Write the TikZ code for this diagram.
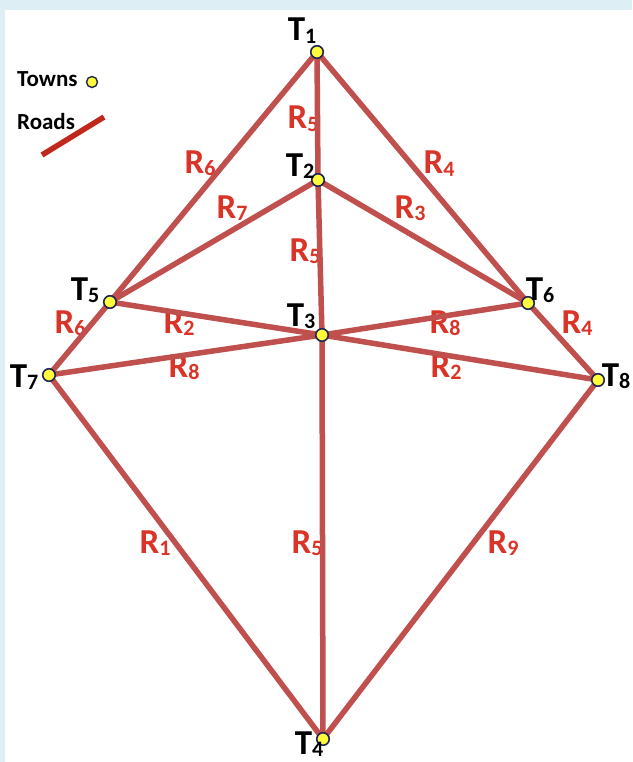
\documentclass[tikz,border=0pt]{standalone}
\usepackage{fontspec}
\setmainfont{Carlito}
\definecolor{frame}{RGB}{221,238,244}
\definecolor{road}{RGB}{192,80,77}
\definecolor{legendroad}{RGB}{192,40,28}
\definecolor{rlabel}{RGB}{218,52,40}
\definecolor{townfill}{RGB}{255,250,60}
\definecolor{townedge}{RGB}{30,40,80}
\newcommand\dig[1]{\raisebox{-0.08em}{\fontsize{22}{22}\selectfont #1}}
\tikzset{
  roadline/.style={draw=road, line width=5.5pt},
  town/.style={circle, fill=townfill, draw=townedge, line width=1.6pt, minimum size=12.5pt, inner sep=0pt},
  tname/.style={anchor=base, inner sep=0pt, font=\fontsize{35}{35}\selectfont\bfseries, text=black},
  rname/.style={anchor=base, inner sep=0pt, font=\fontsize{35}{35}\selectfont\bfseries, text=rlabel},
  legendtext/.style={anchor=base west, inner sep=0pt, font=\fontsize{23}{23}\selectfont\bfseries},
}
\begin{document}
\begin{tikzpicture}[x=1pt, y=-1pt]
  % page frame
  \fill[frame] (0,0) rectangle (632,762);
  \fill[white] (5,10) rectangle (632,762);
  \useasboundingbox (0,0) rectangle (632,762);

  % town positions
  \coordinate (p1) at (317,52);
  \coordinate (p2) at (318,180);
  \coordinate (p3) at (322,335);
  \coordinate (p4) at (323,739);
  \coordinate (p5) at (110,302);
  \coordinate (p6) at (528,303);
  \coordinate (p7) at (49,375);
  \coordinate (p8) at (598,380);

  % road labels
  \node[rname] (l15) at (303,129) {R\dig{5}};
  \node[rname] (l16) at (200,173) {R\dig{6}};
  \node[rname] (l14) at (439,174) {R\dig{4}};
  \node[rname] (l27) at (232,218) {R\dig{7}};
  \node[rname] (l23) at (410,218) {R\dig{3}};
  \node[rname] (l25) at (305,261) {R\dig{5}};
  \node[rname] (l56) at (70,333) {R\dig{6}};
  \node[rname] (l52) at (179,333) {R\dig{2}};
  \node[rname] (l36) at (445,333) {R\dig{8}};
  \node[rname] (l64) at (577,333) {R\dig{4}};
  \node[rname] (l73) at (184,377) {R\dig{8}};
  \node[rname] (l38) at (446,377) {R\dig{2}};
  \node[rname] (l74) at (155,553) {R\dig{1}};
  \node[rname] (l34) at (307,553) {R\dig{5}};
  \node[rname] (l84) at (503,553) {R\dig{9}};

  % roads
  \draw[roadline] (p1) -- (p5) -- (p7);
  \draw[roadline] (p1) -- (p6) -- (p8);
  \draw[roadline] (p1) -- (p2) -- (p3) -- (p4);
  \draw[roadline] (p5) -- (p2) -- (p6);
  \draw[roadline] (p5) -- (p3) -- (p8);
  \draw[roadline] (p7) -- (p3) -- (p6);
  \draw[roadline] (p7) -- (p4) -- (p8);

  % towns
  \node[town] (t1) at (p1) {};
  \node[town] (t2) at (p2) {};
  \node[town] (t3) at (p3) {};
  \node[town] (t4) at (p4) {};
  \node[town] (t5) at (p5) {};
  \node[town] (t6) at (p6) {};
  \node[town] (t7) at (p7) {};
  \node[town] (t8) at (p8) {};

  % town names
  \node[tname] (n1) at (302,41) {T\dig{1}};
  \node[tname] (n2) at (300,176) {T\dig{2}};
  \node[tname] (n3) at (301,326) {T\dig{3}};
  \node[tname] (n4) at (309,754) {T\dig{4}};
  \node[tname] (n5) at (85,300) {T\dig{5}};
  \node[tname] (n6) at (540,300) {T\dig{6}};
  \node[tname] (n7) at (24,387) {T\dig{7}};
  \node[tname] (n8) at (616,386) {T\dig{8}};

  % legend
  \node[legendtext] (lgtowns) at (17,87) {Towns};
  \node[town, minimum size=11pt, line width=1.4pt] (lgdot) at (92,82) {};
  \node[legendtext] (lgroads) at (17,130) {Roads};
  \coordinate (lga) at (42,155);
  \coordinate (lgb) at (104,117);
  \draw[legendroad, line width=5.5pt] (lga) -- (lgb);
\end{tikzpicture}
\end{document}
